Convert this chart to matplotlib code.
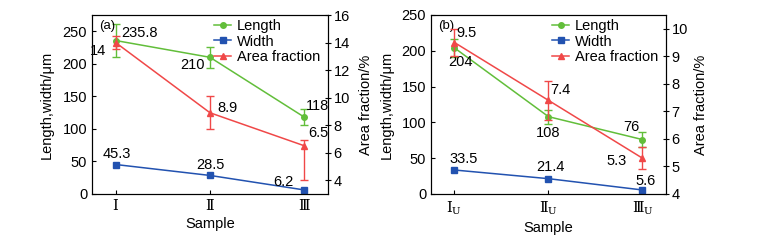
import matplotlib
matplotlib.use("Agg")
import matplotlib.pyplot as plt
from matplotlib.lines import Line2D

plt.rcParams['font.family'] = ['Liberation Sans', 'DejaVu Sans']
plt.rcParams['font.size'] = 10
plt.rcParams['mathtext.fontset'] = 'custom'
plt.rcParams['mathtext.rm'] = 'Liberation Sans'

# panel (a)
samples_a = ['Ⅰ', 'Ⅱ', 'Ⅲ']
length_a = [235.8, 210, 118]
length_a_err = [26, 16, 12]
width_a = [45.3, 28.5, 6.2]
area_a = [14, 8.9, 6.5]
area_a_err_lo = [0.5, 1.2, 2.5]
area_a_err_hi = [0.5, 1.2, 0.4]

# panel (b)
samples_b = ['Ⅰ$_\\mathregular{U}$', 'Ⅱ$_\\mathregular{U}$', 'Ⅲ$_\\mathregular{U}$']
length_b = [204, 108, 76]
length_b_err = [12, 10, 10]
width_b = [33.5, 21.4, 5.6]
area_b = [9.5, 7.4, 5.3]
area_b_err = [0.5, 0.7, 0.4]

GREEN = '#62be3a'
BLUE = '#2252b0'
RED = '#f04848'

fig = plt.figure(figsize=(7.77, 2.4), dpi=100)


def px(dx, dy):
    # pixel offset -> points (dpi 100)
    return (dx * 0.72, dy * 0.72)


def panel(rect, tag, samples, length, length_err, width, area, area_err,
          ylim, ylim2, yticks2, labels, label_x2):
    ax = fig.add_axes(rect)
    x = list(range(len(samples)))
    ax.errorbar(x, length, yerr=length_err, color=GREEN, marker='o', ms=4,
                lw=1.1, capsize=3, elinewidth=1)
    ax.plot(x, width, color=BLUE, marker='s', ms=4, lw=1.1)
    ax.set_xlim(-0.25, 2.25)
    ax.set_ylim(*ylim)
    ax.set_yticks([0, 50, 100, 150, 200, 250])
    ax.set_xticks(x)
    ax.set_xticklabels(samples, family=['DejaVu Serif', 'DejaVu Sans'], fontsize=11)
    ax.tick_params(direction='in', length=3, width=0.8, labelsize=10.5)
    ax.set_ylabel('Length,width/μm', fontsize=10.5)
    ax.set_xlabel('Sample', labelpad=3, fontsize=10.5)
    ax.yaxis.set_label_coords(-0.16, 0.5)

    ax2 = ax.twinx()
    ax2.errorbar(x, area, yerr=area_err, color=RED, marker='^', ms=5,
                 lw=1.1, capsize=3, elinewidth=1)
    ax2.set_ylim(*ylim2)
    ax2.set_yticks(yticks2)
    ax2.tick_params(direction='inout', length=4, width=0.8, pad=2, labelsize=10.5)
    ax2.set_ylabel('Area fraction/%', fontsize=10.5)
    ax2.yaxis.set_label_coords(label_x2, 0.5)

    for a in (ax, ax2):
        for s in a.spines.values():
            s.set_linewidth(0.8)

    ax.text(0.03, 0.97, tag, transform=ax.transAxes, ha='left', va='top', fontsize=9.5)
    handles = [Line2D([], [], color=GREEN, marker='o', ms=4, lw=1.1),
               Line2D([], [], color=BLUE, marker='s', ms=4, lw=1.1),
               Line2D([], [], color=RED, marker='^', ms=5, lw=1.1)]
    ax2.legend(handles, ['Length', 'Width', 'Area fraction'], loc='upper right',
               frameon=False, fontsize=10.5, handlelength=1.2, handletextpad=0.35,
               labelspacing=0.1, borderaxespad=0.0, bbox_to_anchor=(0.99, 1.01))

    for series, axis, off in labels:
        vals = {'length': length, 'width': width, 'area': area}[series]
        target = ax2 if axis == 2 else ax
        for i, (dx, dy, ha) in enumerate(off):
            v = vals[i]
            target.annotate(f'{v:g}', (i, v), xytext=px(dx, dy), textcoords='offset points',
                            ha=ha, va='center', fontsize=10.5)
    return ax, ax2


panel([0.1184, 0.1917, 0.3037, 0.7458], '(a)', samples_a, length_a, length_a_err,
      width_a, area_a, [area_a_err_lo, area_a_err_hi],
      (0, 275), (3, 16), [4, 6, 8, 10, 12, 14, 16],
      [('length', 1, [(6, 8, 'left'), (-5, -8, 'right'), (2, 11, 'left')]),
       ('area', 2, [(-9, -8, 'right'), (7, 5, 'left'), (4, 13, 'left')]),
       ('width', 1, [(1, 11, 'center'), (0, 10, 'center'), (-11, 8, 'right')])],
      1.13)

panel([0.5547, 0.1917, 0.3024, 0.7458], '(b)', samples_b, length_b, length_b_err,
      width_b, area_b, area_b_err,
      (0, 250), (4, 10.5), [4, 5, 6, 7, 8, 9, 10],
      [('length', 1, [(6, -14, 'center'), (0, -16, 'center'), (-11, 13, 'center')]),
       ('area', 2, [(2, 10, 'left'), (2, 10, 'left'), (-16, -3, 'right')]),
       ('width', 1, [(9, 11, 'center'), (2, 12, 'center'), (3, 9, 'center')])],
      1.12)

fig.savefig('out.png', dpi=100)
